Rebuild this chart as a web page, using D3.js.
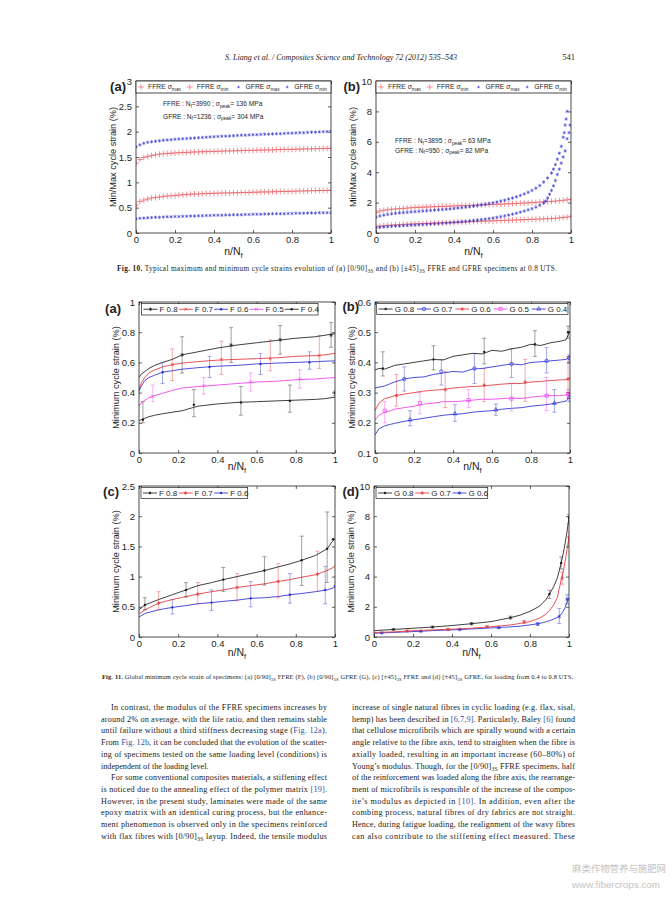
<!DOCTYPE html>
<html>
<head>
<meta charset="utf-8">
<script src="https://cdn.jsdelivr.net/npm/d3@7.9.0/dist/d3.min.js"></script>
<style>
  body { margin: 0; background: #fff; }
  svg { display: block; }
</style>
</head>
<body>
<script>
// ---------- data ----------
const xTicks = [0, 0.2, 0.4, 0.6, 0.8, 1];
const yTicks10a = [0, 0.5, 1, 1.5, 2, 2.5, 3];
const yTicks10b = [0, 2, 4, 6, 8, 10];
const yTicks11a = [0, 0.2, 0.4, 0.6, 0.8, 1];
const yTicks11b = [0.1, 0.2, 0.3, 0.4, 0.5, 0.6];
const yTicks11c = [0, 0.5, 1, 1.5, 2, 2.5];
const yTicks11d = [0, 2, 4, 6, 8, 10];

// Fig 10 sampling grid of n/Nf (every 2% of life)
const lifeGrid = d3.range(51).map(i => i / 50);

// Fig 10a  [0/90]3S
const ffreMax10a = [1.38,1.45,1.49,1.51,1.53,1.545,1.555,1.565,1.57,1.575,
  1.58,1.585,1.59,1.59,1.595,1.60,1.60,1.605,1.605,1.61,
  1.61,1.615,1.615,1.62,1.62,1.62,1.625,1.625,1.63,1.63,
  1.63,1.635,1.635,1.64,1.64,1.64,1.645,1.645,1.65,1.65,
  1.65,1.655,1.655,1.66,1.66,1.66,1.665,1.665,1.67,1.67,1.67];
const ffreMin10a = [0.55,0.62,0.65,0.67,0.69,0.70,0.71,0.72,0.73,0.735,
  0.74,0.75,0.755,0.76,0.765,0.77,0.77,0.775,0.78,0.78,
  0.785,0.785,0.79,0.79,0.79,0.795,0.795,0.80,0.80,0.80,
  0.805,0.805,0.81,0.81,0.81,0.815,0.815,0.82,0.82,0.82,
  0.825,0.825,0.83,0.83,0.83,0.835,0.835,0.84,0.84,0.84,0.845];
const gfreMax10a = [1.70,1.74,1.77,1.79,1.80,1.81,1.82,1.83,1.835,1.84,
  1.85,1.855,1.86,1.865,1.87,1.875,1.88,1.885,1.89,1.895,
  1.90,1.905,1.91,1.91,1.915,1.92,1.925,1.93,1.93,1.935,
  1.94,1.94,1.945,1.95,1.95,1.955,1.96,1.96,1.965,1.97,
  1.97,1.975,1.98,1.98,1.985,1.99,1.99,1.995,2.0,2.0,2.01];
const gfreMin10a = [0.28,0.29,0.295,0.30,0.305,0.31,0.31,0.315,0.32,0.32,
  0.325,0.325,0.33,0.33,0.335,0.335,0.34,0.34,0.345,0.345,
  0.35,0.35,0.35,0.355,0.355,0.36,0.36,0.36,0.365,0.365,
  0.37,0.37,0.37,0.375,0.375,0.38,0.38,0.38,0.38,0.385,
  0.385,0.39,0.39,0.39,0.395,0.395,0.395,0.40,0.40,0.40,0.40];

// Fig 10b  [±45]3S
const ffreMax10b = [1.35,1.45,1.50,1.53,1.56,1.58,1.60,1.62,1.64,1.66,
  1.68,1.69,1.70,1.71,1.72,1.73,1.74,1.75,1.76,1.77,
  1.78,1.79,1.80,1.81,1.82,1.83,1.84,1.85,1.86,1.87,
  1.88,1.89,1.90,1.91,1.92,1.93,1.94,1.96,1.97,1.98,
  2.00,2.01,2.03,2.05,2.06,2.08,2.10,2.12,2.15,2.18,2.20];
const ffreMin10b = [0.40,0.45,0.48,0.50,0.52,0.54,0.55,0.57,0.58,0.59,
  0.60,0.61,0.62,0.63,0.64,0.65,0.66,0.67,0.68,0.69,
  0.70,0.71,0.72,0.73,0.74,0.75,0.76,0.77,0.78,0.79,
  0.80,0.81,0.82,0.83,0.84,0.85,0.86,0.87,0.88,0.89,
  0.90,0.91,0.92,0.93,0.94,0.95,0.97,0.99,1.02,1.05,1.10];
// GFRE: first 41 grid points (0 .. 0.8), then the failure tail
const gfreMax10b = [1.05,1.12,1.18,1.22,1.26,1.29,1.32,1.34,1.36,1.38,
  1.40,1.42,1.44,1.46,1.48,1.50,1.52,1.54,1.56,1.58,
  1.61,1.64,1.67,1.70,1.73,1.77,1.81,1.85,1.89,1.94,
  1.99,2.04,2.10,2.16,2.23,2.30,2.38,2.47,2.57,2.68,2.80];
const gfreMaxTail10b = [[0.82,2.95],[0.84,3.12],[0.86,3.35],[0.88,3.62],[0.90,3.95],
  [0.91,4.2],[0.92,4.5],[0.93,4.85],[0.94,5.25],[0.95,5.7],[0.96,6.3],
  [0.965,6.6],[0.97,7.1],[0.975,7.5],[0.98,8.0]];
const gfreMin10b = [0.35,0.38,0.40,0.42,0.44,0.46,0.47,0.49,0.50,0.52,
  0.53,0.55,0.56,0.58,0.59,0.61,0.62,0.64,0.66,0.68,
  0.70,0.72,0.74,0.76,0.79,0.82,0.85,0.88,0.91,0.95,
  0.99,1.03,1.08,1.13,1.18,1.24,1.30,1.37,1.44,1.52,1.60];
const gfreMinTail10b = [[0.82,1.7],[0.84,1.82],[0.86,1.97],[0.87,2.1],[0.88,2.3],
  [0.89,2.55],[0.90,2.8],[0.91,3.1],[0.92,3.45],[0.93,3.85],[0.94,4.2],
  [0.95,4.6],[0.96,5.0],[0.97,5.4],[0.98,6.2],[0.99,6.6],[0.995,7.1]];

// Fig 11a  [0/90]3S FFRE  (line samples + [x, mean, low, high] error bars)
const x11a = [0,0.01,0.03,0.05,0.08,0.12,0.17,0.22,0.3,0.4,0.5,0.6,0.7,0.8,0.9,0.95,1];
const f08a = [0.50,0.52,0.54,0.56,0.58,0.60,0.62,0.65,0.67,0.695,0.715,0.73,0.745,0.76,0.77,0.78,0.79];
const f07a = [0.42,0.46,0.50,0.53,0.55,0.57,0.585,0.595,0.605,0.615,0.62,0.625,0.63,0.64,0.645,0.65,0.66];
const f06a = [0.41,0.44,0.48,0.50,0.515,0.535,0.545,0.555,0.565,0.575,0.58,0.59,0.595,0.60,0.605,0.608,0.61];
const f05a = [0.31,0.33,0.35,0.365,0.38,0.395,0.415,0.43,0.44,0.45,0.46,0.47,0.475,0.485,0.49,0.495,0.50];
const f04a = [0.21,0.22,0.23,0.24,0.25,0.26,0.27,0.28,0.31,0.325,0.335,0.34,0.345,0.35,0.355,0.36,0.37];
const f08aBars = [[0.22,0.65,0.53,0.77],[0.47,0.715,0.6,0.83],[0.72,0.75,0.655,0.845],[0.98,0.78,0.7,0.865]];
const f07aBars = [[0.17,0.585,0.48,0.69],[0.42,0.62,0.52,0.74],[0.67,0.625,0.545,0.75],[0.92,0.645,0.56,0.78]];
const f06aBars = [[0.12,0.535,0.46,0.6],[0.36,0.57,0.5,0.64],[0.62,0.59,0.52,0.66],[0.87,0.6,0.555,0.67]];
const f05aBars = [[0.07,0.375,0.34,0.45],[0.33,0.445,0.39,0.5],[0.57,0.47,0.41,0.53],[0.82,0.49,0.43,0.55]];
const f04aBars = [[0.02,0.22,0.2,0.34],[0.28,0.32,0.24,0.42],[0.52,0.335,0.25,0.44],[0.77,0.345,0.27,0.45],[1.0,0.4,0.38,0.41]];

// Fig 11b  [0/90]3S GFRE
const x11b = [0,0.02,0.05,0.08,0.1,0.15,0.2,0.25,0.3,0.35,0.4,0.45,0.5,0.55,0.6,0.65,0.7,0.75,0.8,0.85,0.9,0.95,0.98,1];
const g08b = [0.375,0.38,0.378,0.385,0.39,0.395,0.40,0.405,0.41,0.408,0.42,0.425,0.43,0.428,0.44,0.437,0.445,0.45,0.46,0.456,0.465,0.47,0.475,0.505];
const g07b = [0.315,0.318,0.322,0.33,0.335,0.345,0.35,0.352,0.36,0.365,0.37,0.368,0.378,0.38,0.385,0.39,0.395,0.392,0.40,0.402,0.405,0.408,0.41,0.418];
const g06b = [0.24,0.265,0.28,0.285,0.29,0.295,0.30,0.305,0.308,0.31,0.315,0.318,0.32,0.322,0.325,0.328,0.33,0.33,0.335,0.337,0.34,0.342,0.343,0.348];
const g05b = [0.21,0.225,0.235,0.24,0.245,0.25,0.255,0.262,0.265,0.27,0.27,0.272,0.275,0.278,0.278,0.28,0.282,0.28,0.285,0.288,0.29,0.29,0.292,0.297];
const g04b = [0.16,0.18,0.19,0.195,0.198,0.205,0.21,0.215,0.22,0.225,0.228,0.23,0.235,0.238,0.24,0.245,0.248,0.25,0.255,0.258,0.262,0.268,0.272,0.285];
const g08bBars = [[0.04,0.38,0.355,0.435],[0.3,0.41,0.375,0.455],[0.56,0.435,0.395,0.48],[0.82,0.46,0.42,0.505],[0.99,0.5,0.48,0.52]];
const g07bBars = [[0.15,0.345,0.305,0.385],[0.34,0.37,0.325,0.41],[0.51,0.38,0.33,0.43],[0.7,0.395,0.35,0.445],[0.88,0.405,0.365,0.45],[0.995,0.415,0.4,0.425]];
const g06bBars = [[0.11,0.29,0.255,0.36],[0.36,0.31,0.25,0.37],[0.56,0.325,0.27,0.38],[0.77,0.335,0.27,0.41],[0.99,0.345,0.3,0.42]];
const g05bBars = [[0.05,0.24,0.2,0.27],[0.23,0.265,0.23,0.3],[0.48,0.275,0.25,0.31],[0.7,0.28,0.24,0.33],[0.88,0.29,0.24,0.35],[0.99,0.295,0.28,0.31]];
const g04bBars = [[0.18,0.21,0.19,0.24],[0.41,0.23,0.205,0.26],[0.62,0.243,0.225,0.262],[0.92,0.265,0.235,0.31],[0.995,0.285,0.27,0.3]];

// Fig 11c  [±45]3S FFRE
const x11c = [0,0.03,0.1,0.17,0.24,0.3,0.37,0.43,0.5,0.57,0.64,0.71,0.77,0.83,0.9,0.96,0.99,1];
const f08c = [0.45,0.53,0.62,0.70,0.78,0.85,0.90,0.95,1.0,1.05,1.10,1.16,1.21,1.27,1.35,1.46,1.60,1.62];
const f07c = [0.38,0.45,0.56,0.62,0.67,0.71,0.75,0.78,0.82,0.85,0.88,0.92,0.95,0.99,1.03,1.1,1.15,1.18];
const f06c = [0.33,0.39,0.45,0.49,0.52,0.55,0.57,0.59,0.61,0.64,0.65,0.67,0.70,0.72,0.75,0.78,0.81,0.84];
const f08cBars = [[0.03,0.53,0.45,0.65],[0.24,0.78,0.66,0.9],[0.43,0.95,0.75,1.15],[0.64,1.1,0.86,1.33],[0.83,1.27,0.85,1.67],[0.96,1.46,0.9,2.07],[0.99,1.62,1.62,1.62]];
const f07cBars = [[0.1,0.56,0.45,0.75],[0.3,0.71,0.55,0.9],[0.5,0.82,0.6,1.05],[0.71,0.92,0.65,1.22],[0.91,1.04,0.75,1.42]];
const f06cBars = [[0.17,0.49,0.38,0.62],[0.37,0.57,0.44,0.78],[0.57,0.64,0.5,0.92],[0.77,0.7,0.56,1.05],[0.95,0.78,0.55,1.17],[1.0,0.84,0.84,0.84]];

// Fig 11d  [±45]3S GFRE
const x11d = [0,0.1,0.2,0.3,0.4,0.5,0.6,0.7,0.75,0.8,0.85,0.88,0.9,0.92,0.94,0.96,0.97,0.98,0.99,1];
const g08d = [0.42,0.5,0.58,0.66,0.76,0.88,1.02,1.28,1.45,1.7,2.05,2.45,2.85,3.3,3.9,4.9,5.5,6.2,7.0,7.9];
const g07d = [0.3,0.34,0.42,0.47,0.52,0.58,0.68,0.8,0.9,1.02,1.25,1.5,1.75,2.1,2.6,3.8,4.3,5.0,5.8,6.6];
const g06d = [0.25,0.3,0.36,0.42,0.47,0.53,0.6,0.67,0.72,0.8,0.9,1.0,1.08,1.18,1.3,1.5,1.7,1.95,2.3,2.6];
const g08dBars = [[0.1,0.5,0.45,0.55],[0.3,0.66,0.6,0.72],[0.5,0.88,0.8,0.96],[0.7,1.28,1.18,1.38],[0.9,2.85,2.55,3.1],[0.96,4.9,4.5,5.3],[1.0,7.9,7.5,8.1]];
const g07dBars = [[0.17,0.4,0.35,0.45],[0.38,0.5,0.45,0.56],[0.58,0.68,0.62,0.74],[0.77,1.0,0.9,1.1],[0.965,3.9,3.5,4.3],[1.0,6.6,6.0,7.0]];
const g06dBars = [[0.04,0.27,0.25,0.3],[0.24,0.38,0.35,0.42],[0.44,0.5,0.45,0.55],[0.64,0.62,0.57,0.68],[0.84,0.85,0.75,0.95],[0.95,1.35,0.9,1.9],[0.99,2.5,2.2,2.8]];

// page text
const headerText = "S. Liang et al. / Composites Science and Technology 72 (2012) 535\u2013543";
const pageNumber = "541";
const caption10 = "*Fig. 10.* Typical maximum and minimum cycle strains evolution of (a) [0/90]_{3S} and (b) [\u00b145]_{3S} FFRE and GFRE specimens at 0.8 UTS.";
const caption11 = "*Fig. 11.* Global minimum cycle strain of specimens: (a) [0/90]_{3S} FFRE (F), (b) [0/90]_{3S} GFRE (G), (c) [\u00b145]_{3S} FFRE and (d) [\u00b145]_{3S} GFRE, for loading from 0.4 to 0.8 UTS.";
const leftColumn = [
  "In contrast, the modulus of the FFRE specimens increases by",
  "around 2% on average, with the life ratio, and then remains stable",
  "until failure without a third stiffness decreasing stage (<Fig. 12a>).",
  "From <Fig. 12b>, it can be concluded that the evolution of the scatter-",
  "ing of specimens tested on the same loading level (conditions) is",
  "independent of the loading level.",
  "For some conventional composites materials, a stiffening effect",
  "is noticed due to the annealing effect of the polymer matrix <[19]>.",
  "However, in the present study, laminates were made of the same",
  "epoxy matrix with an identical curing process, but the enhance-",
  "ment phenomenon is observed only in the specimens reinforced",
  "with flax fibres with [0/90]_{3S} layup. Indeed, the tensile modulus"
];
const rightColumn = [
  "increase of single natural fibres in cyclic loading (e.g. flax, sisal,",
  "hemp) has been described in <[6,7,9]>. Particularly, Baley <[6]> found",
  "that cellulose microfibrils which are spirally wound with a certain",
  "angle relative to the fibre axis, tend to straighten when the fibre is",
  "axially loaded, resulting in an important increase (60\u201380%) of",
  "Young\u2019s modulus. Though, for the [0/90]_{3S} FFRE specimens, half",
  "of the reinforcement was loaded along the fibre axis, the rearrange-",
  "ment of microfibrils is responsible of the increase of the compos-",
  "ite\u2019s modulus as depicted in <[10]>. In addition, even after the",
  "combing process, natural fibres of dry fabrics are not straight.",
  "Hence, during fatigue loading, the realignment of the wavy fibres",
  "can also contribute to the stiffening effect measured. These"
];

// ---------- drawing ----------
const W = 672, H = 897;
const RED = "#e4353c", BLUE = "#2a2fd4", MAG = "#f03ff0", BLACK = "#1e1e1e";
const SANS = "Liberation Sans, Arial, sans-serif";
const SERIF = "Liberation Serif, Times New Roman, serif";

const svg = d3.select("body").append("svg").attr("width", W).attr("height", H);
svg.append("rect").attr("width", W).attr("height", H).attr("fill", "#fff");

// text with _{sub}, <blue ref> and *bold* markup
function rich(sel, str, fs) {
  const parts = str.split(/(_\{[^}]*\}|<[^>]*>|\*[^*]+\*)/).filter(s => s !== "");
  let shifted = false;
  parts.forEach(p => {
    let t = p, kind = null;
    if (p.startsWith("_{")) { t = p.slice(2, -1); kind = "sub"; }
    else if (p.startsWith("<")) { t = p.slice(1, -1); kind = "ref"; }
    else if (p.startsWith("*") && p.length > 2) { t = p.slice(1, -1); kind = "bold"; }
    const ts = sel.append("tspan").text(t);
    if (kind === "sub") { ts.attr("dy", fs * 0.28).attr("font-size", fs * 0.72); shifted = true; }
    else if (shifted) { ts.attr("dy", -fs * 0.28); shifted = false; }
    if (kind === "ref") ts.attr("fill", "#2b55a8");
    if (kind === "bold") ts.attr("font-weight", "bold");
  });
  return sel;
}

const symbols = {
  plus: [d3.symbolPlus, 22], x: [d3.symbolTimes, 7], star: [d3.symbolAsterisk, 9],
  circle: [d3.symbolCircle, 9], dot: [d3.symbolCircle, 4.5], square: [d3.symbolSquare2, 13],
  tri: [d3.symbolTriangle2, 11]
};
function marker(g, type, px, py, color, scale = 1, sw = 0.7) {
  const [sym, size] = symbols[type];
  const p = g.append("path")
    .attr("d", d3.symbol(sym, size * scale)())
    .attr("transform", `translate(${px},${py})`);
  if (type === "dot") p.attr("fill", color);
  else p.attr("fill", "none").attr("stroke", color).attr("stroke-width", sw);
}

let clipId = 0;
function panel(o) {
  const x = d3.scaleLinear().domain([0, 1]).range([o.x0, o.x1]);
  const y = d3.scaleLinear().domain(o.yDomain).range([o.y1, o.y0]);
  const g = svg.append("g");
  const tk = 3, fmt = d3.format("~g");

  g.append("g").attr("transform", `translate(0,${o.y1})`)
    .call(d3.axisBottom(x).tickValues(xTicks).tickSizeInner(-tk).tickSizeOuter(0).tickPadding(3).tickFormat(fmt));
  g.append("g").attr("transform", `translate(0,${o.y0})`)
    .call(d3.axisTop(x).tickValues(xTicks).tickSizeInner(-tk).tickSizeOuter(0).tickFormat(""));
  g.append("g").attr("transform", `translate(${o.x0},0)`)
    .call(d3.axisLeft(y).tickValues(o.yTicks).tickSizeInner(-tk).tickSizeOuter(0).tickPadding(4).tickFormat(fmt));
  g.append("g").attr("transform", `translate(${o.x1},0)`)
    .call(d3.axisRight(y).tickValues(o.yTicks).tickSizeInner(-tk).tickSizeOuter(0).tickFormat(""));
  g.selectAll(".domain").remove();
  g.selectAll(".tick line").attr("stroke", BLACK).attr("stroke-width", 0.7);
  g.selectAll(".tick text").attr("font-family", SANS).attr("font-size", 9.5).attr("fill", BLACK);

  const id = "clip" + (clipId++);
  svg.append("clipPath").attr("id", id).append("rect")
    .attr("x", o.x0).attr("y", o.y0).attr("width", o.x1 - o.x0).attr("height", o.y1 - o.y0);
  const plot = g.append("g").attr("clip-path", `url(#${id})`);

  const front = g.append("g");
  front.append("rect").attr("x", o.x0).attr("y", o.y0)
    .attr("width", o.x1 - o.x0).attr("height", o.y1 - o.y0)
    .attr("fill", "none").attr("stroke", BLACK).attr("stroke-width", 0.8);

  // panel letter, kept clear of the top tick label
  front.append("text").attr("x", o.x0 - o.letterDx).attr("y", o.y0 + o.letterDy)
    .attr("text-anchor", "end")
    .attr("font-family", SANS).attr("font-size", 13).attr("font-weight", "bold")
    .attr("fill", BLACK).text(o.letter);
  // axis labels
  rich(front.append("text").attr("x", (o.x0 + o.x1) / 2).attr("y", o.y1 + o.xLabDy)
    .attr("text-anchor", "middle").attr("font-family", SANS).attr("font-size", 10.5)
    .attr("fill", BLACK), "n/N_{f}", 10.5);
  front.append("text")
    .attr("transform", `translate(${o.x0 - 20},${(o.y0 + o.y1) / 2}) rotate(-90)`)
    .attr("text-anchor", "middle").attr("font-family", SANS).attr("font-size", 9.2)
    .attr("fill", BLACK).text(o.yLabel);

  return { g, plot, front, x, y, o };
}

// Fig 10 style panels: marker clouds + top legend strip
function fig10Legend(p, entries) {
  const { o } = p;
  const h = 12, w = o.x1 - o.x0, ew = w / entries.length;
  p.front.append("rect").attr("x", o.x0).attr("y", o.y0).attr("width", w).attr("height", h)
    .attr("fill", "#fff").attr("stroke", BLACK).attr("stroke-width", 0.8);
  entries.forEach((e, i) => {
    const ex = o.x0 + i * ew;
    marker(p.front, e.mark, ex + 5, o.y0 + h / 2, e.color, 0.6, 0.5);
    rich(p.front.append("text").attr("x", ex + 12).attr("y", o.y0 + h / 2 + 2)
      .attr("font-family", SANS).attr("font-size", 6.8).attr("fill", BLACK), e.label, 6.8);
  });
}
function cloud(p, pts, mark, color, scale = 1, sw = 0.55) {
  pts.forEach(([a, b]) => marker(p.plot, mark, p.x(a), p.y(b), color, scale, sw));
}
const zip = (xs, ys) => ys.map((v, i) => [xs[i], v]);

// Fig 11 style panels: lines, markers and error bars
function series(p, xs, ys, bars, color, mark) {
  p.plot.append("path").datum(zip(xs, ys))
    .attr("d", d3.line().x(d => p.x(d[0])).y(d => p.y(d[1])))
    .attr("fill", "none").attr("stroke", color).attr("stroke-width", 0.85);
  bars.forEach(([a, m, lo, hi]) => {
    if (hi > lo) {
      const bx = p.x(a);
      const eg = p.plot.append("g").attr("stroke", color).attr("stroke-width", 0.6).attr("opacity", 0.7);
      eg.append("line").attr("x1", bx).attr("x2", bx).attr("y1", p.y(lo)).attr("y2", p.y(hi));
      [lo, hi].forEach(v => eg.append("line").attr("x1", bx - 2).attr("x2", bx + 2)
        .attr("y1", p.y(v)).attr("y2", p.y(v)));
    }
    marker(p.plot, mark, p.x(a), p.y(m), color);
  });
}
function fig11Legend(p, bx, by, bw, bh, entries) {
  p.front.append("rect").attr("x", bx).attr("y", by).attr("width", bw).attr("height", bh)
    .attr("fill", "#fff").attr("stroke", BLACK).attr("stroke-width", 0.7);
  const ew = bw / entries.length, cy = by + bh / 2;
  entries.forEach((e, i) => {
    const ex = bx + i * ew + 2;
    p.front.append("line").attr("x1", ex).attr("x2", ex + 14).attr("y1", cy).attr("y2", cy)
      .attr("stroke", e.color).attr("stroke-width", 0.85);
    marker(p.front, e.mark, ex + 7, cy, e.color);
    p.front.append("text").attr("x", ex + 16).attr("y", cy + 3)
      .attr("font-family", SANS).attr("font-size", 8).attr("fill", BLACK).text(e.label);
  });
}

// ----- Fig 10a -----
const p10a = panel({ x0: 136, x1: 331, y0: 81, y1: 233, yDomain: [0, 3], yTicks: yTicks10a,
  letter: "(a)", letterDx: 10, letterDy: 10, xLabDy: 22, yLabel: "Min/Max cycle strain (%)" });
cloud(p10a, zip(lifeGrid, ffreMax10a), "plus", RED, 0.6);
cloud(p10a, zip(lifeGrid, ffreMin10a), "plus", RED, 0.6);
cloud(p10a, zip(lifeGrid, gfreMax10a), "star", BLUE, 0.9, 0.6);
cloud(p10a, zip(lifeGrid, gfreMin10a), "star", BLUE, 0.9, 0.6);
fig10Legend(p10a, [
  { mark: "plus", color: RED, label: "FFRE \u03c3_{max}" },
  { mark: "plus", color: RED, label: "FFRE \u03c3_{min}" },
  { mark: "star", color: BLUE, label: "GFRE \u03c3_{max}" },
  { mark: "star", color: BLUE, label: "GFRE \u03c3_{min}" }
]);
[["FFRE : N_{f}=3990 ; \u03c3_{peak}= 136 MPa", 106], ["GFRE : N_{f}=1236 ; \u03c3_{peak}= 304 MPa", 118.5]]
  .forEach(([t, yy]) => rich(p10a.front.append("text").attr("x", 163).attr("y", yy)
    .attr("font-family", SANS).attr("font-size", 6.6).attr("fill", BLACK), t, 6.6));

// ----- Fig 10b -----
const p10b = panel({ x0: 376, x1: 571, y0: 81, y1: 233, yDomain: [0, 10], yTicks: yTicks10b,
  letter: "(b)", letterDx: 16, letterDy: 10, xLabDy: 22, yLabel: "Min/Max cycle strain (%)" });
cloud(p10b, zip(lifeGrid, ffreMax10b), "plus", RED, 0.6);
cloud(p10b, zip(lifeGrid, ffreMin10b), "plus", RED, 0.6);
cloud(p10b, zip(lifeGrid, gfreMax10b).concat(gfreMaxTail10b), "star", BLUE, 0.9, 0.6);
cloud(p10b, zip(lifeGrid, gfreMin10b).concat(gfreMinTail10b), "star", BLUE, 0.9, 0.6);
fig10Legend(p10b, [
  { mark: "plus", color: RED, label: "FFRE \u03c3_{max}" },
  { mark: "plus", color: RED, label: "FFRE \u03c3_{min}" },
  { mark: "star", color: BLUE, label: "GFRE \u03c3_{max}" },
  { mark: "star", color: BLUE, label: "GFRE \u03c3_{min}" }
]);
[["FFRE : N_{f}=3895 ; \u03c3_{peak}= 63 MPa", 143], ["GFRE : N_{f}=950 ; \u03c3_{peak}= 82 MPa", 152.5]]
  .forEach(([t, yy]) => rich(p10b.front.append("text").attr("x", 395).attr("y", yy)
    .attr("font-family", SANS).attr("font-size", 6.6).attr("fill", BLACK), t, 6.6));

// ----- Fig 11a -----
const p11a = panel({ x0: 139, x1: 335, y0: 302, y1: 453, yDomain: [0, 1], yTicks: yTicks11a,
  letter: "(a)", letterDx: 18, letterDy: 11, xLabDy: 17, yLabel: "Minimum cycle strain (%)" });
series(p11a, x11a, f04a, f04aBars, BLACK, "dot");
series(p11a, x11a, f05a, f05aBars, MAG, "x");
series(p11a, x11a, f06a, f06aBars, BLUE, "dot");
series(p11a, x11a, f07a, f07aBars, RED, "x");
series(p11a, x11a, f08a, f08aBars, BLACK, "star");
fig11Legend(p11a, 141.5, 303.5, 176.5, 11.5, [
  { label: "F 0.8", color: BLACK, mark: "star" }, { label: "F 0.7", color: RED, mark: "x" },
  { label: "F 0.6", color: BLUE, mark: "dot" }, { label: "F 0.5", color: MAG, mark: "x" },
  { label: "F 0.4", color: BLACK, mark: "dot" }]);

// ----- Fig 11b -----
const p11b = panel({ x0: 375, x1: 570, y0: 302, y1: 453, yDomain: [0.1, 0.6], yTicks: yTicks11b,
  letter: "(b)", letterDx: 16, letterDy: 9, xLabDy: 17, yLabel: "Minimum cycle strain (%)" });
series(p11b, x11b, g04b, g04bBars, BLUE, "tri");
series(p11b, x11b, g05b, g05bBars, MAG, "square");
series(p11b, x11b, g06b, g06bBars, RED, "star");
series(p11b, x11b, g07b, g07bBars, BLUE, "circle");
series(p11b, x11b, g08b, g08bBars, BLACK, "dot");
fig11Legend(p11b, 376.7, 303.5, 191.3, 11, [
  { label: "G 0.8", color: BLACK, mark: "dot" }, { label: "G 0.7", color: BLUE, mark: "circle" },
  { label: "G 0.6", color: RED, mark: "star" }, { label: "G 0.5", color: MAG, mark: "square" },
  { label: "G 0.4", color: BLUE, mark: "tri" }]);

// ----- Fig 11c -----
const p11c = panel({ x0: 139, x1: 335, y0: 486, y1: 637, yDomain: [0, 2.5], yTicks: yTicks11c,
  letter: "(c)", letterDx: 20, letterDy: 10, xLabDy: 19, yLabel: "Minimum cycle strain (%)" });
series(p11c, x11c, f06c, f06cBars, BLUE, "dot");
series(p11c, x11c, f07c, f07cBars, RED, "star");
series(p11c, x11c, f08c, f08cBars, BLACK, "dot");
fig11Legend(p11c, 141, 487.5, 106.7, 11, [
  { label: "F 0.8", color: BLACK, mark: "dot" }, { label: "F 0.7", color: RED, mark: "star" },
  { label: "F 0.6", color: BLUE, mark: "dot" }]);

// ----- Fig 11d -----
const p11d = panel({ x0: 374, x1: 569, y0: 486, y1: 637, yDomain: [0, 10], yTicks: yTicks11d,
  letter: "(d)", letterDx: 15, letterDy: 10, xLabDy: 19, yLabel: "Minimum cycle strain (%)" });
series(p11d, x11d, g06d, g06dBars, BLUE, "star");
series(p11d, x11d, g07d, g07dBars, RED, "star");
series(p11d, x11d, g08d, g08dBars, BLACK, "dot");
fig11Legend(p11d, 376, 487.5, 111.7, 11, [
  { label: "G 0.8", color: BLACK, mark: "dot" }, { label: "G 0.7", color: RED, mark: "star" },
  { label: "G 0.6", color: BLUE, mark: "star" }]);

// ----- page text -----
const TXT = "#1c1c1c";
svg.append("text").attr("x", 225).attr("y", 60).attr("font-family", SERIF).attr("font-style", "italic")
  .attr("font-size", 8.2).attr("fill", TXT).attr("textLength", 232).attr("lengthAdjust", "spacingAndGlyphs")
  .text(headerText);
svg.append("text").attr("x", 575).attr("y", 60).attr("text-anchor", "end").attr("font-family", SERIF)
  .attr("font-size", 8.5).attr("fill", TXT).text(pageNumber);

rich(svg.append("text").attr("x", 117).attr("y", 271).attr("font-family", SERIF).attr("font-size", 7.3)
  .attr("fill", TXT).attr("textLength", 440).attr("lengthAdjust", "spacing"), caption10, 7.3);
rich(svg.append("text").attr("x", 102).attr("y", 679).attr("font-family", SERIF).attr("font-size", 6.4)
  .attr("fill", TXT).attr("textLength", 471).attr("lengthAdjust", "spacing"), caption11, 6.4);

function column(lines, x0, x1, indentLines, raggedLines) {
  const fs = 8.2;
  lines.forEach((line, i) => {
    const indent = indentLines.includes(i) ? 10 : 0;
    const t = svg.append("text").attr("x", x0 + indent).attr("y", 710 + i * 11.7)
      .attr("font-family", SERIF).attr("font-size", fs).attr("fill", TXT);
    if (!raggedLines.includes(i)) t.attr("textLength", x1 - x0 - indent).attr("lengthAdjust", "spacing");
    rich(t, line, fs);
  });
}
column(leftColumn, 101, 327, [0, 6], [5]);
column(rightColumn, 352, 575, [], []);

// watermark
svg.append("text").attr("x", 572).attr("y", 872).attr("font-family", "Noto Sans CJK SC")
  .attr("font-size", 9.5).attr("fill", "#c4c4c4").attr("textLength", 94).attr("lengthAdjust", "spacingAndGlyphs")
  .text("麻类作物营养与施肥网");
svg.append("text").attr("x", 572).attr("y", 888).attr("font-family", SANS)
  .attr("font-size", 9.5).attr("fill", "#c4c4c4").attr("textLength", 88).attr("lengthAdjust", "spacingAndGlyphs")
  .text("www.fibercrops.com");
</script>
</body>
</html>
